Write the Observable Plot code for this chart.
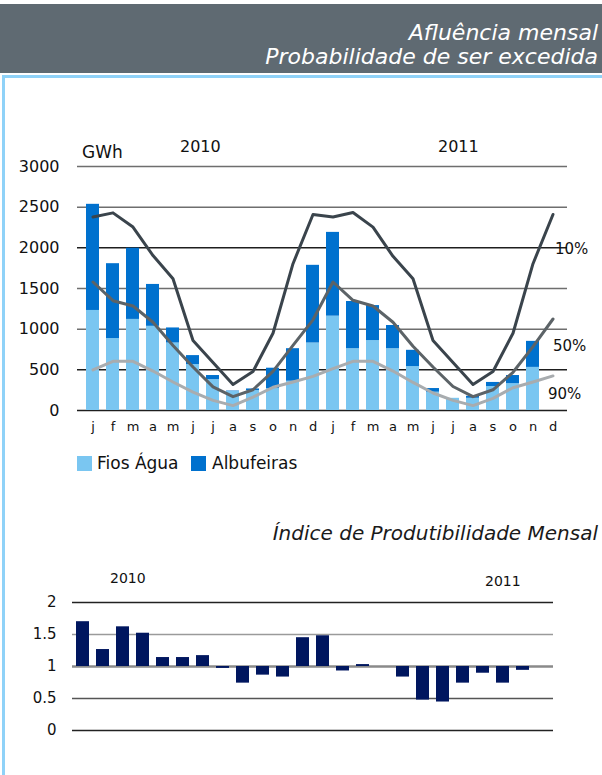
<!DOCTYPE html>
<html><head><meta charset="utf-8">
<script src="https://cdn.jsdelivr.net/npm/d3@7"></script>
<script src="https://cdn.jsdelivr.net/npm/@observablehq/plot@0.6"></script>
<style>
body{margin:0;width:602px;height:775px;position:relative;overflow:hidden;background:#fff;font-family:"DejaVu Sans",sans-serif;}
.abs{position:absolute;white-space:nowrap;line-height:1;}
#top,#bottom{position:absolute;left:0;}
#top{top:130px;}
#bottom{top:590px;}
</style></head><body>
<div class="abs" style="left:0;top:4px;width:602px;height:69px;background:#5f6a72;"></div>
<div class="abs" style="right:4px;top:22px;color:#fff;font-style:italic;font-size:22px;">Afluência mensal</div>
<div class="abs" style="right:4px;top:46px;color:#fff;font-style:italic;font-size:22px;">Probabilidade de ser excedida</div>
<div class="abs" style="left:2px;top:75px;width:600px;height:700px;border-left:3px solid #8fd2f8;border-top:3px solid #8fd2f8;box-sizing:border-box;"></div>

<div id="top"></div>
<div id="bottom"></div>

<div class="abs" style="left:82px;top:144px;font-size:17px;color:#111;">GWh</div>
<div class="abs" style="left:180px;top:139px;font-size:16px;color:#111;">2010</div>
<div class="abs" style="left:438px;top:139px;font-size:16px;color:#111;">2011</div>
<div class="abs" style="left:555px;top:242px;font-size:15px;color:#111;">10%</div>
<div class="abs" style="left:553px;top:339px;font-size:15px;color:#111;">50%</div>
<div class="abs" style="left:548px;top:387px;font-size:15px;color:#111;">90%</div>

<div class="abs" style="left:77px;top:456px;width:15px;height:15px;background:#7ac6f1;"></div>
<div class="abs" style="left:97px;top:455px;font-size:17px;color:#111;">Fios Água</div>
<div class="abs" style="left:191px;top:456px;width:15px;height:15px;background:#0071ce;"></div>
<div class="abs" style="left:212px;top:455px;font-size:17px;color:#111;">Albufeiras</div>

<div class="abs" style="right:4px;top:523px;font-style:italic;font-size:20px;color:#1a1a1a;">Índice de Produtibilidade Mensal</div>
<div class="abs" style="left:110px;top:571px;font-size:14px;color:#111;">2010</div>
<div class="abs" style="left:485px;top:574px;font-size:14px;color:#111;">2011</div>

<script>
// ---- data ----
const months = ["j","f","m","a","m","j","j","a","s","o","n","d"];
const years = [2010, 2011];
const seriesNames = ["Fios Água", "Albufeiras"];

const fios2010 = [1230, 885, 1120, 1035, 830, 565, 380, 235, 245, 270, 360, 830];
const alb2010  = [1305, 920, 875, 515, 185, 110, 50, 5, 20, 250, 400, 955];
const fios2011 = [1160, 760, 860, 760, 540, 225, 150, 150, 295, 330, 530, null];
const alb2011  = [1030, 580, 430, 285, 200, 45, 0, 25, 50, 100, 320, null];

const p10_2010 = [2380, 2430, 2255, 1905, 1620, 860, 590, 320, 480, 950, 1805, 2410];
const p10_2011 = [2380, 2435, 2255, 1895, 1620, 860, 590, 320, 480, 950, 1805, 2410];
const p50_2010 = [1580, 1350, 1285, 1085, 800, 535, 290, 170, 255, 480, 800, 1115];
const p50_2011 = [1580, 1355, 1285, 1085, 790, 535, 295, 170, 255, 470, 785, 1125];
const p90_2010 = [500, 605, 605, 485, 350, 225, 125, 60, 165, 285, 350, 420];
const p90_2011 = [515, 605, 605, 485, 345, 215, 125, 60, 150, 280, 350, 425];

const idx2010 = [1.70, 1.265, 1.62, 1.52, 1.14, 1.14, 1.17, 0.97, 0.74, 0.865, 0.835, 1.45];
const idx2011 = [1.48, 0.93, 1.03, 1.0, 0.835, 0.475, 0.445, 0.74, 0.895, 0.74, 0.94, null];

const yTicksTop = [0, 500, 1000, 1500, 2000, 2500, 3000];
const yTicksBottom = [0, 0.5, 1, 1.5, 2];

// ---- build tables ----
const keys = years.flatMap(y => months.map((m, i) => `${y}-${i}`));
const monthOf = k => months[+k.split("-")[1]];
const fios = [...fios2010, ...fios2011];
const alb = [...alb2010, ...alb2011];
const barData = [];
keys.forEach((k, i) => {
  if (fios[i] != null) barData.push({key: k, series: seriesNames[0], value: fios[i]});
});
keys.forEach((k, i) => {
  if (alb[i] != null) barData.push({key: k, series: seriesNames[1], value: alb[i]});
});
const lineRows = (arr) => keys.map((k, i) => ({key: k, value: arr[i]}));
const p10 = lineRows([...p10_2010, ...p10_2011]);
const p50 = lineRows([...p50_2010, ...p50_2011]);
const p90 = lineRows([...p90_2010, ...p90_2011]);
const idx = [...idx2010, ...idx2011];
const idxData = keys.map((k, i) => ({key: k, value: idx[i]})).filter(d => d.value != null);

const topPlot = Plot.plot({
  width: 602, height: 315,
  marginTop: 36, marginBottom: 35, marginLeft: 77, marginRight: 35,
  style: {fontFamily: "DejaVu Sans, sans-serif", background: "none", color: "#111", overflow: "visible"},
  x: {type: "band", domain: keys, paddingInner: 0.35, paddingOuter: 0.175, label: null},
  y: {domain: [0, 3000], label: null},
  color: {domain: seriesNames, range: ["#7ac6f1", "#0071ce"]},
  marks: [
    Plot.ruleY([3000, 2500, 1500, 1000], {stroke: "#6e6e6e", strokeWidth: 1.5}),
    Plot.ruleY([2000, 500, 0], {stroke: "#1e1e1e", strokeWidth: 1.5}),
    Plot.barY(barData, {x: "key", y: "value", fill: "series"}),
    Plot.line(p90, {x: "key", y: "value", stroke: "#a8acaf", strokeWidth: 3}),
    Plot.line(p50, {x: "key", y: "value", stroke: "#5c6367", strokeWidth: 3}),
    Plot.line(p10, {x: "key", y: "value", stroke: "#3a444c", strokeWidth: 3}),
    Plot.axisY({ticks: yTicksTop, tickFormat: d => String(d), tickSize: 0, tickPadding: 18, fontSize: 16, label: null}),
    Plot.axisX({tickSize: 0, tickPadding: 11, fontSize: 13, tickFormat: monthOf, label: null})
  ]
});
document.getElementById("top").appendChild(topPlot);

const bottomPlot = Plot.plot({
  width: 602, height: 150,
  marginTop: 12, marginBottom: 10, marginLeft: 72, marginRight: 49,
  style: {fontFamily: "DejaVu Sans, sans-serif", background: "none", color: "#111", overflow: "visible"},
  x: {type: "band", domain: keys, paddingInner: 0.35, paddingOuter: 0.175, axis: null},
  y: {domain: [0, 2], label: null},
  marks: [
    Plot.ruleY([2, 0], {stroke: "#222", strokeWidth: 1.5}),
    Plot.ruleY([0.5], {stroke: "#555", strokeWidth: 1.5}),
    Plot.ruleY([1.5], {stroke: "#9a9a9a", strokeWidth: 1.5}),
    Plot.ruleY([1], {stroke: "#8a8a8a", strokeWidth: 2.5}),
    Plot.barY(idxData, {x: "key", y1: 1, y2: "value", fill: "#00165f"}),
    Plot.axisY({ticks: yTicksBottom, tickFormat: d => String(d), tickSize: 0, tickPadding: 16, fontSize: 15, label: null})
  ]
});
document.getElementById("bottom").appendChild(bottomPlot);
</script>
</body></html>
